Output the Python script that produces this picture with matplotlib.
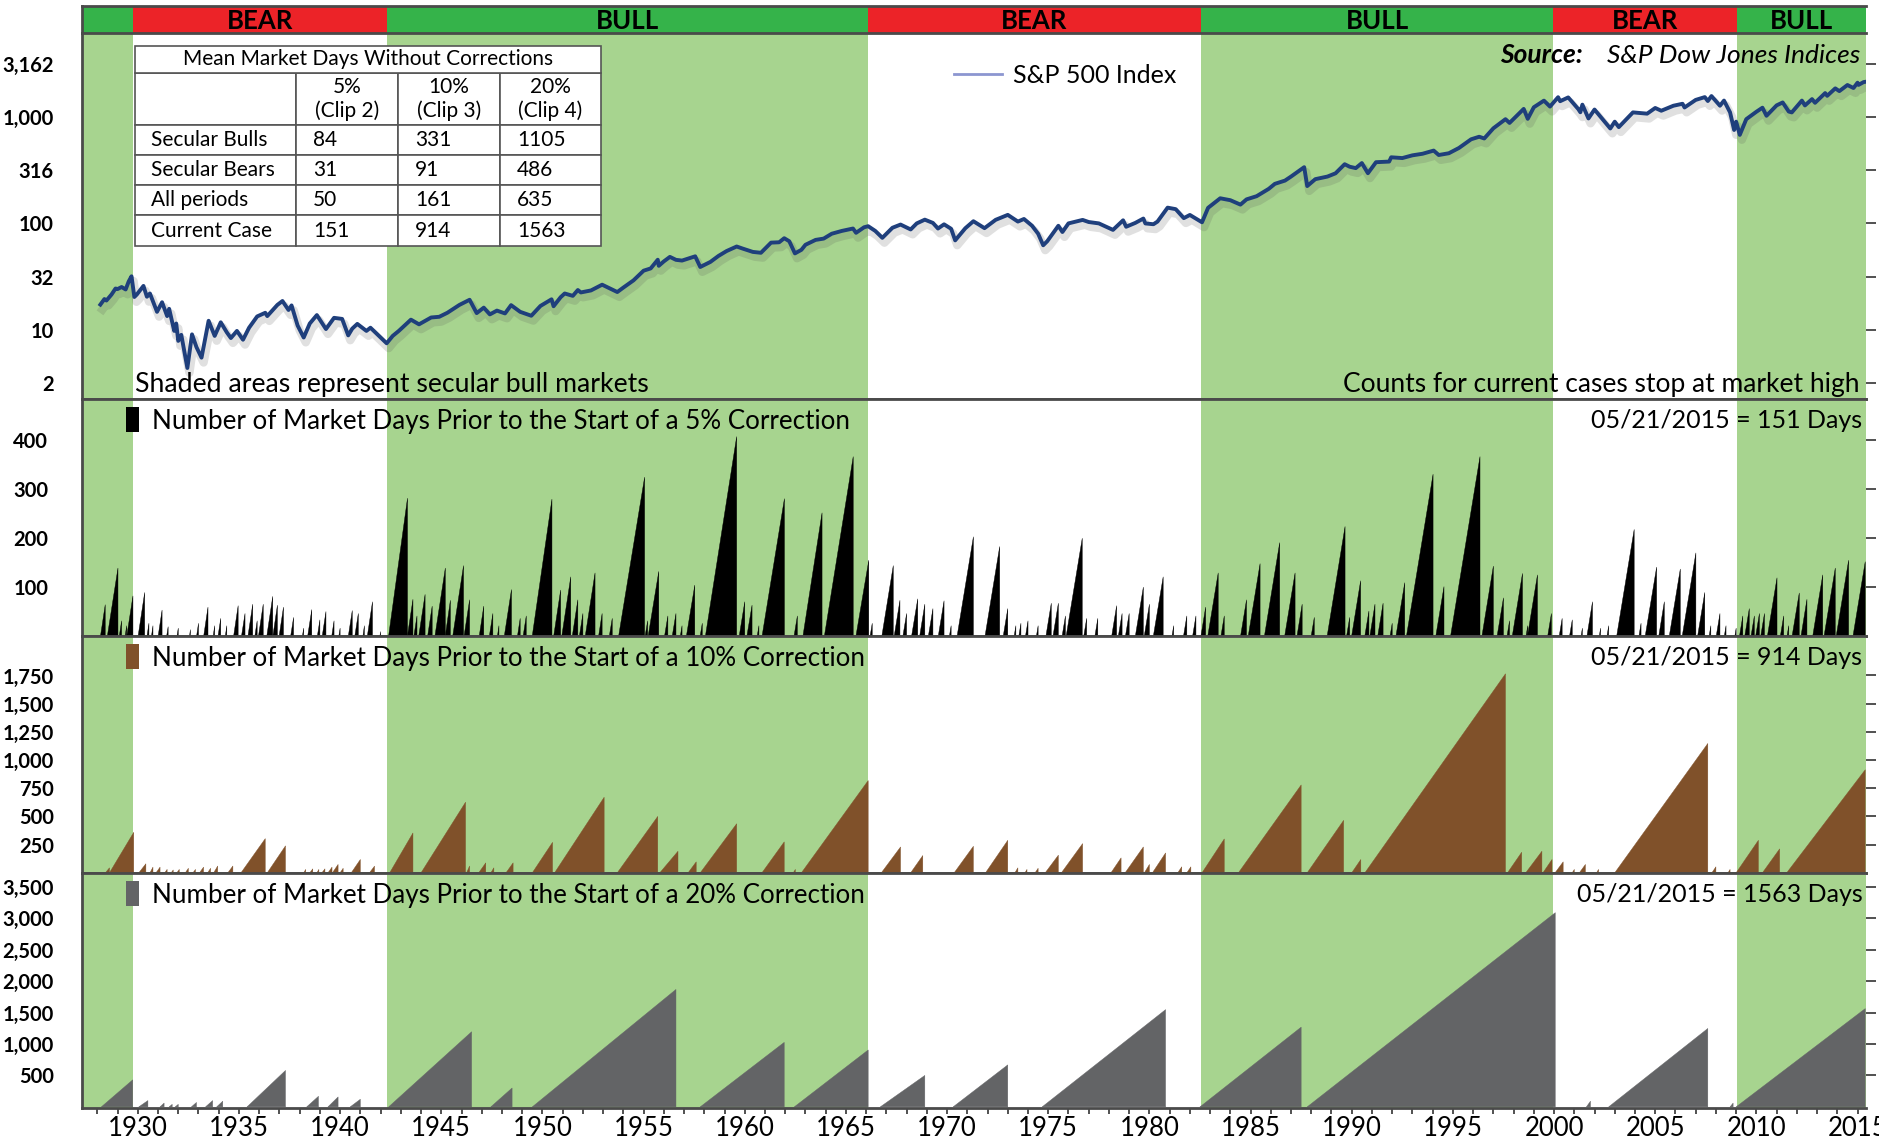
import matplotlib
matplotlib.use('Agg')
import matplotlib.pyplot as plt
import matplotlib.patheffects as pe
from matplotlib.patches import Patch
from matplotlib.lines import Line2D
from matplotlib.collections import PolyCollection

plt.rcParams['font.family'] = ['Lato', 'DejaVu Sans']

# ---------------- secular regimes ----------------
regime_edges = [1927.22, 1929.76, 1942.32, 1966.08, 1982.55, 1999.97, 2009.04, 2015.42]
regime_names = ['BULL', 'BEAR', 'BULL', 'BEAR', 'BULL', 'BEAR', 'BULL']

# ---------------- S&P 500 ----------------
sp_years = [1928.15, 1928.35, 1928.45, 1928.7, 1928.9, 1929.0, 1929.2, 1929.4, 1929.55, 1929.69,
            1929.83, 1929.95, 1930.28, 1930.45, 1930.6, 1930.95, 1931.2, 1931.45, 1931.55, 1931.8,
            1931.9, 1932.0, 1932.15, 1932.45, 1932.68, 1932.9, 1933.15, 1933.5, 1933.8, 1934.1,
            1934.4, 1934.6, 1934.9, 1935.2, 1935.5, 1935.9, 1936.3, 1936.4, 1936.9, 1937.15,
            1937.45, 1937.6, 1937.9, 1938.2, 1938.5, 1938.85, 1939.3, 1939.7, 1940.1, 1940.4,
            1940.6, 1940.85, 1941.3, 1941.5, 1941.95, 1942.3, 1942.6, 1942.9, 1943.5, 1943.9,
            1944.5, 1944.9, 1945.3, 1945.9, 1946.4, 1946.75, 1947.1, 1947.4, 1947.75, 1948.15,
            1948.45, 1948.9, 1949.45, 1949.9, 1950.45, 1950.55, 1950.9, 1951.1, 1951.5, 1951.75,
            1951.9, 1952.4, 1952.95, 1953.7, 1954.0, 1954.5, 1955.0, 1955.35, 1955.7, 1955.75,
            1956.0, 1956.3, 1956.6, 1956.9, 1957.55, 1957.8, 1958.3, 1958.7, 1959.1, 1959.6,
            1959.9, 1960.4, 1960.8, 1961.3, 1961.7, 1961.95, 1962.2, 1962.48, 1962.8, 1963.0,
            1963.5, 1963.9, 1964.3, 1964.8, 1965.35, 1965.5, 1965.9, 1966.1, 1966.45, 1966.8,
            1967.3, 1967.7, 1968.2, 1968.5, 1968.9, 1969.3, 1969.55, 1969.85, 1970.2, 1970.4,
            1970.9, 1971.3, 1971.85, 1972.4, 1973.0, 1973.5, 1973.8, 1974.2, 1974.5, 1974.75,
            1974.95, 1975.5, 1975.7, 1976.0, 1976.7, 1977.0, 1977.5, 1978.2, 1978.7, 1978.85,
            1979.3, 1979.7, 1979.8, 1980.2, 1980.4, 1980.9, 1981.3, 1981.7, 1982.0, 1982.6,
            1982.9, 1983.5, 1984.0, 1984.5, 1984.8, 1985.3, 1985.9, 1986.2, 1986.7, 1987.0,
            1987.65, 1987.8, 1988.2, 1988.8, 1989.2, 1989.65, 1989.9, 1990.2, 1990.5, 1990.8,
            1991.2, 1991.85, 1991.95, 1992.5, 1993.0, 1993.5, 1994.05, 1994.3, 1994.8, 1995.3,
            1995.9, 1996.3, 1996.55, 1997.0, 1997.6, 1997.8, 1998.5, 1998.7, 1999.0, 1999.5,
            1999.8, 2000.2, 2000.3, 2000.7, 2001.2, 2001.3, 2001.4, 2001.7, 2002.0, 2002.5,
            2002.78, 2003.0, 2003.2, 2003.9, 2004.6, 2005.0, 2005.3, 2005.9, 2006.35, 2006.45,
            2007.0, 2007.45, 2007.6, 2007.78, 2008.2, 2008.4, 2008.7, 2008.9, 2009.0, 2009.18,
            2009.5, 2010.0, 2010.3, 2010.5, 2011.0, 2011.3, 2011.6, 2011.75, 2012.25, 2012.4,
            2012.75, 2012.9, 2013.4, 2013.5, 2013.9, 2014.1, 2014.5, 2014.8, 2015.0, 2015.05,
            2015.3, 2015.39]
sp_values = [17.3, 19.5, 18.9, 21.5, 24.5, 24.2, 25.3, 24.0, 28.5, 31.9,
             20.4, 21.5, 25.9, 20.5, 22.0, 14.8, 18.2, 13.5, 15.8, 9.8,
             11.5, 7.9, 9.0, 4.4, 9.1, 6.9, 5.5, 12.2, 8.8, 11.8,
             9.5, 8.4, 9.8, 8.1, 10.5, 13.4, 14.5, 13.5, 17.2, 18.7,
             15.4, 17.0, 11.0, 8.5, 11.5, 13.8, 10.2, 13.0, 12.7, 8.9,
             10.3, 11.4, 9.8, 10.5, 8.7, 7.5, 8.8, 9.8, 12.5, 11.3,
             13.1, 13.3, 14.5, 17.2, 19.2, 14.4, 16.2, 14.0, 15.2, 14.3,
             17.1, 14.8, 13.6, 16.8, 19.4, 16.7, 20.3, 22.0, 20.9, 23.7,
             22.5, 23.5, 26.6, 22.7, 25.0, 29.2, 36.0, 37.8, 45.6, 40.0,
             44.0, 48.5, 45.5, 44.8, 49.1, 39.0, 43.5, 49.5, 55.0, 60.7,
             58.0, 54.0, 53.0, 66.0, 66.5, 72.6, 68.0, 52.3, 56.5, 63.0,
             70.0, 72.0, 80.0, 85.0, 89.5, 81.6, 92.0, 94.1, 85.0, 73.2,
             91.0, 97.5, 87.7, 100.0, 108.4, 101.0, 89.5, 98.0, 89.0, 69.3,
             90.0, 104.8, 90.2, 108.0, 120.2, 104.0, 110.0, 95.0, 80.0, 62.3,
             68.0, 95.0, 83.0, 100.0, 107.8, 103.0, 100.0, 86.9, 106.9, 93.0,
             101.0, 111.0, 99.9, 98.2, 104.0, 140.5, 136.0, 112.0, 120.0, 102.4,
             140.0, 172.0, 165.0, 150.0, 168.0, 180.0, 211.0, 235.0, 252.0, 275.0,
             336.8, 224.0, 260.0, 275.0, 295.0, 359.0, 340.0, 330.0, 368.0, 295.5,
             375.0, 380.0, 417.0, 410.0, 435.0, 450.0, 482.0, 438.0, 455.0, 510.0,
             615.0, 650.0, 626.0, 780.0, 950.0, 876.0, 1186.0, 957.0, 1229.0, 1418.0,
             1247.0, 1527.0, 1400.0, 1520.0, 1180.0, 1103.0, 1300.0, 965.0, 1170.0, 900.0,
             776.8, 900.0, 800.0, 1100.0, 1070.0, 1210.0, 1140.0, 1270.0, 1325.0, 1223.0,
             1440.0, 1530.0, 1406.0, 1565.0, 1270.0, 1420.0, 1100.0, 752.0, 900.0, 676.5,
             950.0, 1115.0, 1217.0, 1022.0, 1280.0, 1363.0, 1120.0, 1099.0, 1419.0, 1278.0,
             1465.0, 1353.0, 1669.0, 1573.0, 1848.0, 1741.0, 1987.0, 1862.0, 2090.0, 1992.0,
             2117.0, 2130.0]

# ---------------- 5% correction runs: start, end (years), market days at end ----------------
p5_start = [1928.16, 1928.5, 1929.09, 1929.38, 1929.46, 1930.02, 1930.46, 1930.68, 1931.01, 1931.43,
            1931.94, 1932.56, 1932.91, 1933.26, 1933.73, 1933.97, 1934.33, 1934.74, 1935.13, 1935.45,
            1935.79, 1935.97, 1936.38, 1936.68, 1936.99, 1937.56, 1938.14, 1938.4, 1938.88, 1939.12,
            1939.59, 1939.94, 1940.41, 1940.73, 1941.13, 1941.35, 1941.97, 1942.4, 1943.33, 1943.65,
            1943.89, 1944.33, 1944.69, 1945.2, 1945.57, 1946.13, 1946.88, 1947.38, 1947.78, 1948.12,
            1948.77, 1949.05, 1949.5, 1950.56, 1950.96, 1951.48, 1951.83, 1952.12, 1952.78, 1953.31,
            1953.77, 1955.08, 1955.23, 1956.04, 1956.42, 1956.82, 1957.12, 1957.8, 1958.06, 1959.73,
            1960.11, 1960.62, 1960.86, 1962.44, 1962.88, 1963.94, 1965.5, 1966.2, 1966.78, 1967.39,
            1967.82, 1968.25, 1968.65, 1969.08, 1969.57, 1970.12, 1970.5, 1971.88, 1972.78, 1973.32,
            1973.55, 1973.88, 1974.42, 1974.89, 1975.24, 1975.69, 1975.89, 1976.76, 1977.31, 1978.14,
            1978.47, 1978.82, 1979.31, 1979.75, 1980.2, 1981.12, 1981.69, 1982.14, 1982.55, 1982.89,
            1983.54, 1984.51, 1984.89, 1985.69, 1986.69, 1987.3, 1988.0, 1988.79, 1989.75, 1990.0,
            1990.65, 1990.9, 1991.29, 1991.9, 1992.19, 1992.71, 1994.16, 1994.89, 1996.44, 1997.19,
            1997.68, 1997.94, 1998.62, 1998.69, 1999.69, 2000.26, 2000.77, 2001.34, 2001.63, 2002.24,
            2002.62, 2003.1, 2004.2, 2004.51, 2005.18, 2005.7, 2006.34, 2007.1, 2007.67, 2008.02,
            2008.42, 2008.94, 2009.17, 2009.43, 2009.74, 2009.97, 2010.22, 2010.55, 2011.19, 2011.52,
            2011.77, 2012.21, 2012.79, 2013.35, 2013.95, 2014.78]
p5_end = [1928.39, 1929.02, 1929.2, 1929.45, 1929.76, 1930.34, 1930.55, 1930.75, 1931.2, 1931.5,
          1932.0, 1932.6, 1933.0, 1933.47, 1933.8, 1934.1, 1934.4, 1934.96, 1935.3, 1935.68,
          1935.9, 1936.2, 1936.67, 1936.9, 1937.2, 1937.7, 1938.2, 1938.6, 1939.0, 1939.3,
          1939.7, 1940.0, 1940.6, 1940.9, 1941.2, 1941.6, 1942.0, 1943.33, 1943.6, 1943.8,
          1944.2, 1944.55, 1945.2, 1945.45, 1946.1, 1946.4, 1947.1, 1947.55, 1947.85, 1948.47,
          1948.9, 1949.2, 1950.47, 1950.9, 1951.4, 1951.75, 1952.0, 1952.6, 1952.95, 1953.45,
          1955.05, 1955.2, 1955.75, 1956.2, 1956.6, 1956.9, 1957.53, 1957.9, 1959.6, 1960.0,
          1960.36, 1960.7, 1961.96, 1962.6, 1963.82, 1965.36, 1966.13, 1966.3, 1967.34, 1967.67,
          1968.0, 1968.55, 1968.9, 1969.3, 1969.85, 1970.2, 1971.3, 1972.6, 1973.0, 1973.4,
          1973.65, 1974.0, 1974.5, 1975.15, 1975.5, 1975.85, 1976.68, 1976.9, 1977.45, 1978.38,
          1978.65, 1979.0, 1979.7, 1980.0, 1980.68, 1981.2, 1981.85, 1982.3, 1982.78, 1983.4,
          1983.7, 1984.8, 1985.47, 1986.44, 1987.2, 1987.55, 1988.15, 1989.67, 1989.9, 1990.44,
          1990.85, 1991.15, 1991.55, 1992.0, 1992.62, 1994.02, 1994.56, 1996.34, 1997.0, 1997.5,
          1997.8, 1998.44, 1998.7, 1999.18, 1999.87, 2000.4, 2000.9, 2001.4, 2001.9, 2002.3,
          2002.7, 2003.96, 2004.3, 2005.07, 2005.45, 2006.24, 2007.01, 2007.45, 2007.75, 2008.2,
          2008.5, 2009.0, 2009.33, 2009.65, 2009.9, 2010.15, 2010.4, 2011.02, 2011.35, 2011.6,
          2012.12, 2012.5, 2013.28, 2013.9, 2014.56, 2015.38]
p5_peak = [63, 138, 30, 20, 81, 88, 25, 20, 52, 18,
           15, 12, 25, 58, 20, 35, 20, 61, 45, 64,
           30, 64, 80, 62, 58, 37, 15, 53, 32, 49,
           30, 15, 51, 45, 20, 69, 8, 281, 74, 40,
           84, 60, 138, 72, 143, 73, 60, 45, 20, 94,
           35, 40, 279, 93, 120, 73, 45, 128, 45, 35,
           324, 30, 131, 40, 45, 20, 103, 25, 407, 69,
           62, 20, 280, 40, 251, 366, 154, 25, 143, 72,
           45, 75, 64, 55, 71, 20, 202, 182, 55, 20,
           25, 30, 20, 66, 66, 40, 199, 35, 35, 61,
           45, 45, 99, 64, 120, 20, 40, 40, 58, 128,
           40, 73, 147, 190, 128, 64, 37, 223, 37, 112,
           50, 64, 66, 25, 108, 330, 100, 366, 142, 77,
           30, 127, 20, 124, 45, 35, 32, 15, 69, 15,
           20, 217, 25, 140, 69, 136, 169, 88, 20, 45,
           20, 15, 40, 55, 40, 45, 45, 118, 40, 20,
           87, 74, 124, 138, 154, 151]

# ---------------- 10% correction runs ----------------
p10_start = [1928.4, 1928.6, 1930.05, 1930.6, 1930.9, 1931.33, 1931.65, 1931.93, 1932.35, 1932.73,
             1933.05, 1933.45, 1933.75, 1934.45, 1935.1, 1936.4, 1938.2, 1938.5, 1938.85, 1939.1,
             1939.4, 1939.62, 1940.0, 1940.55, 1941.45, 1942.45, 1944.0, 1946.25, 1946.85, 1947.45,
             1948.2, 1949.5, 1950.6, 1953.7, 1955.8, 1957.2, 1957.8, 1960.85, 1962.4, 1962.8,
             1966.75, 1968.2, 1970.35, 1971.9, 1973.35, 1973.85, 1974.35, 1974.85, 1975.65, 1978.1,
             1978.8, 1979.75, 1980.15, 1981.4, 1981.85, 1982.6, 1984.4, 1987.8, 1990.0, 1990.65,
             1997.7, 1998.6, 1999.45, 2000.05, 2000.9, 2001.25, 2002.1, 2003.0, 2007.8, 2008.6,
             2009.0, 2010.3, 2011.5]
p10_end = [1928.6, 1929.8, 1930.4, 1930.75, 1931.1, 1931.45, 1931.75, 1932.05, 1932.5, 1932.85,
           1933.25, 1933.6, 1933.95, 1934.7, 1936.3, 1937.3, 1938.3, 1938.65, 1938.95, 1939.25,
           1939.6, 1939.9, 1940.15, 1941.0, 1941.7, 1943.6, 1946.2, 1946.4, 1947.2, 1947.6,
           1948.55, 1950.5, 1953.05, 1955.7, 1956.7, 1957.6, 1959.6, 1961.95, 1962.5, 1966.1,
           1967.7, 1968.8, 1971.3, 1973.0, 1973.5, 1973.95, 1974.5, 1975.5, 1976.7, 1978.6,
           1979.7, 1980.0, 1980.8, 1981.6, 1982.05, 1983.7, 1987.5, 1989.6, 1990.45, 1997.6,
           1998.4, 1999.4, 1999.9, 2000.45, 2001.0, 2001.55, 2002.2, 2007.6, 2008.0, 2008.7,
           2010.1, 2011.15, 2015.38]
p10_peak = [44, 359, 80, 50, 50, 30, 25, 30, 40, 30,
            50, 40, 60, 60, 303, 239, 30, 35, 30, 35,
            50, 74, 40, 118, 59, 353, 626, 60, 88, 44,
            88, 270, 670, 500, 191, 97, 435, 274, 30, 818,
            229, 153, 235, 288, 44, 30, 40, 156, 259, 132,
            229, 74, 176, 53, 53, 300, 779, 465, 118, 1765,
            182, 191, 118, 97, 30, 74, 30, 1147, 53, 30,
            288, 212, 914]

# ---------------- 20% correction runs ----------------
p20_start = [1928.2, 1930.05, 1931.1, 1931.55, 1931.85, 1932.65, 1933.35, 1933.9, 1935.4, 1938.35,
             1939.4, 1940.5, 1942.4, 1947.45, 1949.5, 1957.8, 1962.45, 1966.7, 1970.3, 1974.7,
             1982.5, 1987.8, 2001.6, 2002.7, 2008.7, 2009.0]
p20_end = [1929.75, 1930.5, 1931.3, 1931.7, 1932.0, 1932.9, 1933.7, 1934.2, 1937.3, 1938.93,
           1939.9, 1941.0, 1946.5, 1948.5, 1956.6, 1961.95, 1966.1, 1968.9, 1973.0, 1980.8,
           1987.5, 2000.06, 2001.8, 2007.6, 2008.85, 2015.38]
p20_peak = [430, 100, 60, 40, 40, 70, 100, 90, 579, 168,
            158, 121, 1195, 300, 1868, 1026, 905, 500, 668, 1547,
            1268, 3089, 90, 1247, 60, 1563]

# ---------------- table ----------------
tbl_title = 'Mean Market Days Without Corrections'
tbl_cols = ['', '5%\n(Clip 2)', '10%\n(Clip 3)', '20%\n(Clip 4)']
tbl_rows = ['Secular Bulls', 'Secular Bears', 'All periods', 'Current Case']
tbl_5 = [84, 31, 50, 151]
tbl_10 = [331, 91, 161, 914]
tbl_20 = [1105, 486, 635, 1563]

# ---------------- colours ----------------
SHADE = '#a7d48f'
HDR_GREEN = '#35b34a'
HDR_RED = '#ec2328'
LINE = '#1f3f7c'
BROWN = '#80512a'
GREY = '#636466'
SPINE = '#4a4a4a'

fig = plt.figure(figsize=(18.79, 11.46), dpi=100)
L, W = 0.0434, 0.9497
ax_h = fig.add_axes([L, 0.9708, W, 0.0240])
ax1 = fig.add_axes([L, 0.6518, W, 0.3190])
ax2 = fig.add_axes([L, 0.4450, W, 0.2068])
ax3 = fig.add_axes([L, 0.2382, W, 0.2068])
ax4 = fig.add_axes([L, 0.0330, W, 0.2052])
panels = [ax1, ax2, ax3, ax4]
xlo, xhi = regime_edges[0], regime_edges[-1]

# header band
for i, name in enumerate(regime_names):
    a, b = regime_edges[i], regime_edges[i + 1]
    ax_h.axvspan(a, b, color=HDR_GREEN if name == 'BULL' else HDR_RED, lw=0)
    if b - a > 5:
        ax_h.text((a + b) / 2, 0.45, name, ha='center', va='center', fontsize=18.5,
                  fontweight='bold')
ax_h.set_xlim(xlo, xhi)
ax_h.set_ylim(0, 1)
ax_h.set_xticks([])
ax_h.set_yticks([])
for s in ax_h.spines.values():
    s.set_visible(False)
for s in ['top', 'left']:
    ax_h.spines[s].set_visible(True)
    ax_h.spines[s].set_color(SPINE)
    ax_h.spines[s].set_linewidth(2)

for ax in panels:
    for i, name in enumerate(regime_names):
        if name == 'BULL':
            ax.axvspan(regime_edges[i], regime_edges[i + 1], color=SHADE, lw=0, zorder=0)
    ax.set_xlim(xlo, xhi)
    ax.spines['right'].set_visible(False)
    for s in ['left', 'top', 'bottom']:
        ax.spines[s].set_color(SPINE)
        ax.spines[s].set_linewidth(2)
    ax.tick_params(axis='y', left=False, right=True, labelleft=True, labelright=False,
                   direction='out', length=7, width=1.2, color='#333333', pad=13)
    if ax is not ax4:
        ax.tick_params(axis='x', which='both', bottom=False, labelbottom=False)
ax2.tick_params(axis='y', pad=17)

YFONT = dict(fontsize=14.5, fontweight='bold')

# ---- panel 1: S&P 500 ----
ax1.set_yscale('log')
ax1.plot(sp_years, sp_values, color=LINE, lw=2.8, zorder=3,
         path_effects=[pe.SimpleLineShadow(offset=(1.5, -3.5), shadow_color='#555555', alpha=0.18,
                                           linewidth=6), pe.Normal()])
ax1.set_ylim(2.25, 6050)
ax1.set_yticks([3.162, 10, 31.62, 100, 316.2, 1000, 3162])
ax1.set_yticklabels(['2', '10', '32', '100', '316', '1,000', '3,162'], **YFONT)
ax1.yaxis.set_minor_locator(matplotlib.ticker.NullLocator())
ax1.legend(handles=[Line2D([], [], color='#8c96d0', lw=2)], labels=['S&P 500 Index'],
           loc='center left', bbox_to_anchor=(0.489, 0.885), frameon=False, fontsize=18,
           handlelength=1.9, handletextpad=0.45, borderpad=0, borderaxespad=0)
ax1.text(0.795, 0.941, 'Source:', transform=ax1.transAxes, ha='left', va='center',
         fontsize=19, fontweight='bold', style='italic')
ax1.text(0.9966, 0.941, 'S&P Dow Jones Indices', transform=ax1.transAxes, ha='right',
         va='center', fontsize=19, style='italic')
ax1.text(0.0302, 0.04, 'Shaded areas represent secular bull markets', transform=ax1.transAxes,
         ha='left', va='center', fontsize=19.2)
ax1.text(0.9966, 0.04, 'Counts for current cases stop at market high', transform=ax1.transAxes,
         ha='right', va='center', fontsize=19)

# table
cells = [[r, str(a), str(b), str(c)] for r, a, b, c in zip(tbl_rows, tbl_5, tbl_10, tbl_20)]
cw = [134, 85, 85, 85]
cw = [c / sum(cw) for c in cw]
tb = ax1.table(cellText=cells, colLabels=tbl_cols, colWidths=cw, cellLoc='left',
               colLoc='center', bbox=[0.0302, 0.4197, 0.2611, 0.4719], zorder=6)
tb.auto_set_font_size(False)
tb.set_fontsize(15)
for (r, c), cell in tb.get_celld().items():
    cell.set_edgecolor('#555555')
    cell.set_linewidth(1.2)
    cell.set_facecolor('white')
    cell.set_height(43 if r == 0 else 25)
    if c > 0 and r > 0:
        cell.PAD = 0.17
tt = ax1.table(cellText=[[tbl_title]], cellLoc='center', bbox=[0.0302, 0.8916, 0.2611, 0.0754],
               zorder=6)
tt.auto_set_font_size(False)
tt.set_fontsize(15)
for cell in tt.get_celld().values():
    cell.set_edgecolor('#555555')
    cell.set_linewidth(1.2)
    cell.set_facecolor('white')


# ---- sawtooth panels ----
def sawtooth(ax, starts, ends, peaks, color):
    verts = [[(s, 0), (e, p), (e, 0)] for s, e, p in zip(starts, ends, peaks)]
    ax.add_collection(PolyCollection(verts, facecolors=color, edgecolors=color, linewidths=0.3,
                                     zorder=3))


sawtooth(ax2, p5_start, p5_end, p5_peak, 'black')
sawtooth(ax3, p10_start, p10_end, p10_peak, BROWN)
sawtooth(ax4, p20_start, p20_end, p20_peak, GREY)

ax2.set_ylim(-1, 484)
ax2.set_yticks([100, 200, 300, 400])
ax2.set_yticklabels(['100', '200', '300', '400'], **YFONT)
ax3.set_ylim(-2, 2100)
ax3.set_yticks([250, 500, 750, 1000, 1250, 1500, 1750])
ax3.set_yticklabels(['250', '500', '750', '1,000', '1,250', '1,500', '1,750'], **YFONT)
ax4.set_ylim(-21, 3720)
ax4.set_yticks([500, 1000, 1500, 2000, 2500, 3000, 3500])
ax4.set_yticklabels(['500', '1,000', '1,500', '2,000', '2,500', '3,000', '3,500'], **YFONT)

leg_txt = ['Number of Market Days Prior to the Start of a 5% Correction',
           'Number of Market Days Prior to the Start of a 10% Correction',
           'Number of Market Days Prior to the Start of a 20% Correction']
cur_txt = ['05/21/2015 = 151 Days', '05/21/2015 = 914 Days', '05/21/2015 = 1563 Days']
for ax, col, lt, ct in zip([ax2, ax3, ax4], ['black', BROWN, GREY], leg_txt, cur_txt):
    ax.legend(handles=[Patch(facecolor=col)], labels=[lt], loc='upper left',
              bbox_to_anchor=(0.025, 0.965), frameon=False, fontsize=18.7, handlelength=0.5,
              handleheight=1.1, handletextpad=0.5, borderpad=0, borderaxespad=0)
    ax.text(0.998, 0.909, ct, transform=ax.transAxes, ha='right', va='center', fontsize=18,
            zorder=7)

ax4.set_xticks(range(1930, 2016, 5))
ax4.set_xticks(range(1928, 2016), minor=True)
ax4.tick_params(axis='x', which='both', direction='out', length=4.5, width=1.2, color='#333333',
                labelsize=18.5, pad=1)

fig.savefig('out.png', dpi=100)
